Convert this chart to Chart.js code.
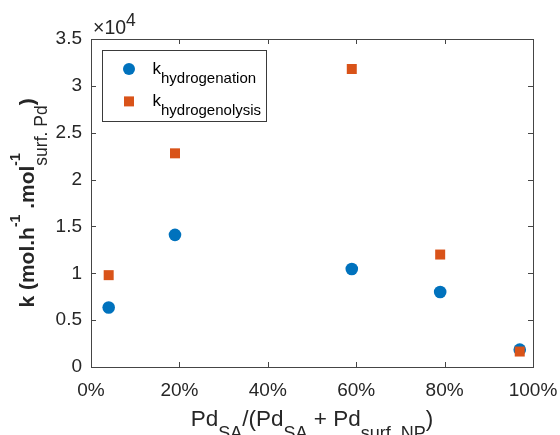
<!DOCTYPE html>
<html lang="en">
<head>
<meta charset="UTF-8">
<title>Rate constants vs single-atom Pd fraction</title>
<script src="https://cdn.jsdelivr.net/npm/chart.js"></script>
<style>
  html, body { margin: 0; padding: 0; background: #fff; }
  #wrap { width: 560px; height: 435px; }
</style>
</head>
<body>
<div id="wrap"><canvas id="kChart" width="560" height="435"></canvas></div>
<script>
// data (x in %, k in mol.h-1.mol-1)
const saFraction = [4, 19, 59, 79, 97];
const kHydrogenation = [6350, 14100, 10450, 8000, 1850];
const kHydrogenolysis = [9800, 22800, 31800, 12000, 1650];

const xTicks = [0, 20, 40, 60, 80, 100];
const xTickLabels = ['0%', '20%', '40%', '60%', '80%', '100%'];
const yTicks = [0, 5000, 10000, 15000, 20000, 25000, 30000, 35000];
const yTickLabels = ['0', '0.5', '1', '1.5', '2', '2.5', '3', '3.5'];

const FONT = "'Liberation Sans', Arial, sans-serif";
const TEXT_COLOR = '#262626';
const AXIS_COLOR = '#454545';
const BLUE = '#0072BD';
const ORANGE = '#D95319';

function fontOf(p) {
    return (p.bold ? 'bold ' : '') + p.size + 'px ' + FONT;
}

// lay out text with sub/superscripts; a part with stack:true shares its x with the next part
function layoutRich(ctx, parts) {
    let x = 0, pending = 0;
    const items = [];
    parts.forEach(p => {
        ctx.font = fontOf(p);
        const w = ctx.measureText(p.t).width;
        items.push({ p, x });
        if (p.stack) {
            pending = Math.max(pending, w);
        } else {
            x += Math.max(w, pending);
            pending = 0;
        }
    });
    return { items, width: x };
}

function drawRich(ctx, parts, x, y, align) {
    const lay = layoutRich(ctx, parts);
    const start = align === 'left' ? x : x - lay.width / 2;
    ctx.textAlign = 'left';
    ctx.textBaseline = 'alphabetic';
    lay.items.forEach(it => {
        ctx.font = fontOf(it.p);
        ctx.fillText(it.p.t, start + it.x, y + (it.p.dy || 0));
    });
}

const xTitle = [
    { t: 'Pd', size: 22.5 },
    { t: 'SA', size: 18, dy: 13 },
    { t: '/(Pd', size: 22.5 },
    { t: 'SA', size: 18, dy: 13 },
    { t: ' + Pd', size: 22.5 },
    { t: 'surf. NP', size: 18, dy: 13 },
    { t: ')', size: 22.5 }
];

const yTitle = [
    { t: 'k (mol.h', size: 21, bold: true },
    { t: '-1', size: 14, bold: true, dy: -14 },
    { t: ' .mol', size: 21, bold: true },
    { t: '-1', size: 14, bold: true, dy: -14, stack: true },
    { t: 'surf. Pd', size: 17.5, dy: 13 },
    { t: ')', size: 21, bold: true }
];

const legendRows = [
    { sub: 'hydrogenation', color: BLUE, style: 'circle' },
    { sub: 'hydrogenolysis', color: ORANGE, style: 'rect' }
];

const decorPlugin = {
    id: 'decor',
    afterDraw(chart) {
        const ctx = chart.ctx;
        const a = chart.chartArea;
        const xs = chart.scales.x, ys = chart.scales.y;
        ctx.save();

        // box and inward ticks
        ctx.strokeStyle = AXIS_COLOR;
        ctx.lineWidth = 1;
        ctx.strokeRect(Math.round(a.left) + 0.5, Math.round(a.top) + 0.5,
            Math.round(a.right - a.left), Math.round(a.bottom - a.top));
        const tl = 5;
        ctx.beginPath();
        xTicks.forEach(v => {
            const px = Math.round(xs.getPixelForValue(v)) + 0.5;
            ctx.moveTo(px, a.bottom); ctx.lineTo(px, a.bottom - tl);
            ctx.moveTo(px, a.top); ctx.lineTo(px, a.top + tl);
        });
        yTicks.forEach(v => {
            const py = Math.round(ys.getPixelForValue(v)) + 0.5;
            ctx.moveTo(a.left, py); ctx.lineTo(a.left + tl, py);
            ctx.moveTo(a.right, py); ctx.lineTo(a.right - tl, py);
        });
        ctx.stroke();

        ctx.fillStyle = TEXT_COLOR;
        // exponent label
        drawRich(ctx, [{ t: '\u00d710', size: 19.5 }, { t: '4', size: 17.5, dy: -8.5 }],
            a.left + 2, a.top - 5, 'left');

        // axis titles
        drawRich(ctx, xTitle, (a.left + a.right) / 2, a.bottom + 58.5, 'center');
        ctx.save();
        ctx.translate(34, (a.top + a.bottom) / 2);
        ctx.rotate(-Math.PI / 2);
        drawRich(ctx, yTitle, 0, 0, 'center');
        ctx.restore();

        // legend
        const lx = a.left + 11.5, ly = a.top + 11.5;
        ctx.fillStyle = '#fff';
        ctx.fillRect(lx, ly, 164, 71);
        ctx.strokeStyle = '#3a3a3a';
        ctx.strokeRect(lx, ly, 164, 71);
        legendRows.forEach((r, i) => {
            const cy = ly + 18.5 + i * 32.4;
            ctx.fillStyle = r.color;
            if (r.style === 'circle') {
                ctx.beginPath();
                ctx.arc(lx + 26.5, cy, 6, 0, Math.PI * 2);
                ctx.fill();
            } else {
                ctx.fillRect(lx + 21.5, cy - 5, 10, 10);
            }
            ctx.fillStyle = '#000';
            drawRich(ctx, [{ t: 'k', size: 17 }, { t: r.sub, size: 15, dy: 8.5 }],
                lx + 50, cy + 5, 'left');
        });
        ctx.restore();
    }
};

new Chart(document.getElementById('kChart'), {
    type: 'scatter',
    data: {
        datasets: [
            {
                label: 'k hydrogenation',
                data: saFraction.map((x, i) => ({ x: x, y: kHydrogenation[i] })),
                pointStyle: 'circle',
                pointRadius: 6.3,
                backgroundColor: BLUE,
                borderWidth: 0,
                order: 2
            },
            {
                label: 'k hydrogenolysis',
                data: saFraction.map((x, i) => ({ x: x, y: kHydrogenolysis[i] })),
                pointStyle: 'rect',
                pointRadius: 7.07,
                backgroundColor: ORANGE,
                borderWidth: 0,
                order: 1
            }
        ]
    },
    options: {
        responsive: false,
        animation: false,
        events: [],
        layout: { padding: { top: 39, right: 27, left: 0, bottom: 0 } },
        plugins: {
            legend: { display: false },
            tooltip: { enabled: false }
        },
        scales: {
            x: {
                type: 'linear',
                min: 0,
                max: 100,
                afterBuildTicks: s => { s.ticks = xTicks.map(v => ({ value: v })); },
                afterFit: s => { s.height = 68; s.paddingLeft = 0; s.paddingRight = 0; },
                grid: { display: false, drawTicks: false },
                border: { display: false },
                ticks: {
                    callback: (v, i) => xTickLabels[i],
                    font: { family: FONT, size: 19 },
                    color: TEXT_COLOR,
                    padding: 12,
                    maxRotation: 0,
                    autoSkip: false
                }
            },
            y: {
                type: 'linear',
                min: 0,
                max: 35000,
                afterBuildTicks: s => { s.ticks = yTicks.map(v => ({ value: v })); },
                afterFit: s => { s.width = 91; s.paddingTop = 0; s.paddingBottom = 0; },
                grid: { display: false, drawTicks: false },
                border: { display: false },
                ticks: {
                    callback: (v, i) => yTickLabels[i],
                    font: { family: FONT, size: 19 },
                    color: TEXT_COLOR,
                    padding: 9,
                    autoSkip: false
                }
            }
        }
    },
    plugins: [decorPlugin]
});
</script>
</body>
</html>
